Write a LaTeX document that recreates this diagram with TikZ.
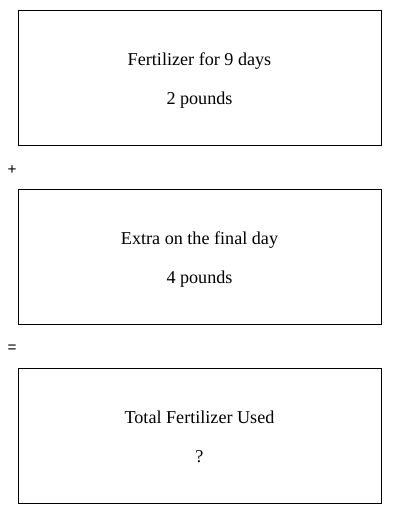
\documentclass[tikz,border=0pt]{standalone}
\usepackage{fontspec}
\setmainfont{Liberation Serif}
\newfontfamily\signfont{Liberation Sans}
\tikzset{
	partbox/.style={draw, line width=0.75pt, minimum width=272.25pt, minimum height=101.25pt, inner sep=0pt},
	parttext/.style={align=center, inner sep=0pt, font=\fontsize{13.6}{29.25}\selectfont},
	sign/.style={inner sep=0pt, font=\signfont\fontsize{11.5}{13}\selectfont}
}
\begin{document}
\begin{tikzpicture}[x=0.75pt, y=-0.75pt]
		\useasboundingbox (0,0) rectangle (400,514);
		
		% First part
		\node[partbox] (days) at (199.5,77.5) {};
		\node[parttext, yshift=-2pt] (daystext) at (days.center) {Fertilizer for 9 days\\2 pounds};
		\node[sign] (plus) at (12,170) {+};
		
		% Second part
		\node[partbox] (extra) at (199.5,256.5) {};
		\node[parttext, yshift=-2pt] (extratext) at (extra.center) {Extra on the final day\\4 pounds};
		\node[sign] (equals) at (12,349) {=};
		
		% Total
		\node[partbox] (total) at (199.5,435.5) {};
		\node[parttext, yshift=-2pt] (totaltext) at (total.center) {Total Fertilizer Used\\?\vphantom{p}};
	\end{tikzpicture}
\end{document}
